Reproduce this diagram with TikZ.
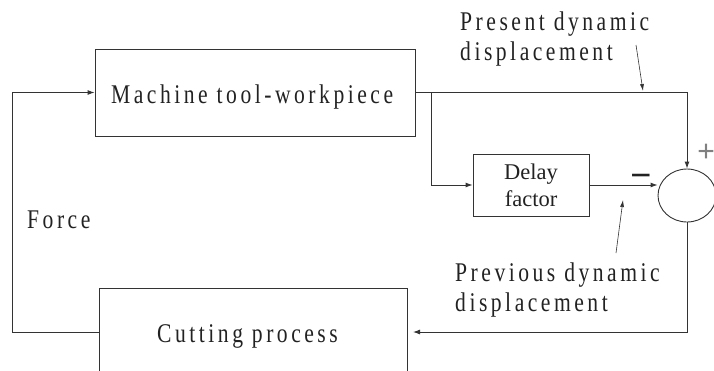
\documentclass[tikz,border=0pt]{standalone}
\usepackage{fontspec}
\setmainfont{Liberation Serif}
\newfontfamily\lbl[FakeStretch=0.8,LetterSpace=13]{Liberation Serif}
\newfontfamily\symf{Liberation Sans}
\usetikzlibrary{arrows.meta,shapes.geometric}
\definecolor{ln}{HTML}{333333}
\definecolor{tx}{HTML}{222222}
\tikzset{
  every node/.style={text=tx},
  blk/.style={draw=ln,line width=0.9pt,inner sep=0pt},
  conn/.style={draw=ln,line width=0.9pt},
  arr/.style={conn,-{Latex[length=7pt,width=5pt]}},
  ptr/.style={draw=ln,line width=0.6pt,-{Latex[length=7pt,width=4pt]}},
  lbltext/.style={font=\lbl\fontsize{27}{30}\selectfont,inner sep=0pt},
}
\begin{document}
\begin{tikzpicture}[x=1pt,y=-1pt]
\clip (0,0) rectangle (714,370);
\fill[white] (0,0) rectangle (714,370);
% blocks
\node[blk,minimum width=320,minimum height=87] (mach) at (255,92.5) {};
\node[lbltext,anchor=base west] (machT) at (111,103) {Machine tool-workpiece};
\node[blk,minimum width=116,minimum height=62,align=center,
      font=\fontsize{22.5}{27}\selectfont] (delay) at (531,185) {Delay\\factor};
\node[blk,minimum width=308,minimum height=88] (cut) at (253,332) {};
\node[lbltext,anchor=base west] (cutT) at (157,342) {Cutting process};
\node[draw=ln,line width=0.9pt,ellipse,minimum width=58,minimum height=53,inner sep=0pt] (sum) at (687,195.5) {};
% signs
\node[font=\symf\fontsize{36}{36}\selectfont,inner sep=0pt] (minus) at (641,181) {−};
\node[font=\symf\fontsize{30}{30}\selectfont,inner sep=0pt,text=gray] (plus) at (706,153) {+};
% labels
\node[lbltext,anchor=base west] (force) at (27,228) {Force};
\node[lbltext,anchor=base west,align=left] (pres) at (460,60) {Present dynamic\\displacement};
\node[lbltext,anchor=base west,align=left] (prev) at (455,311) {Previous dynamic\\displacement};
% coordinates
\coordinate (split) at (431,92);
\coordinate (top) at (687,92);
\coordinate (cutin) at (413,332);
\coordinate (fbL) at (12,332);
\coordinate (p1) at (636,45);
\coordinate (p1t) at (643,91);
\coordinate (p2) at (616,253);
\coordinate (p2t) at (623,200);
% connectors
\draw[arr] (mach.east |- split) -- (top) -- (sum.north);
\draw[arr] (split) |- (delay.west);
\draw[arr] (delay.east) -- (delay.east -| sum.west);
\draw[arr] (sum.south) |- (cutin);
\draw[arr] (cut.west) -- (fbL) |- (mach.west);
\draw[ptr] (p1) -- (p1t);
\draw[ptr] (p2) -- (p2t);
\end{tikzpicture}
\end{document}
